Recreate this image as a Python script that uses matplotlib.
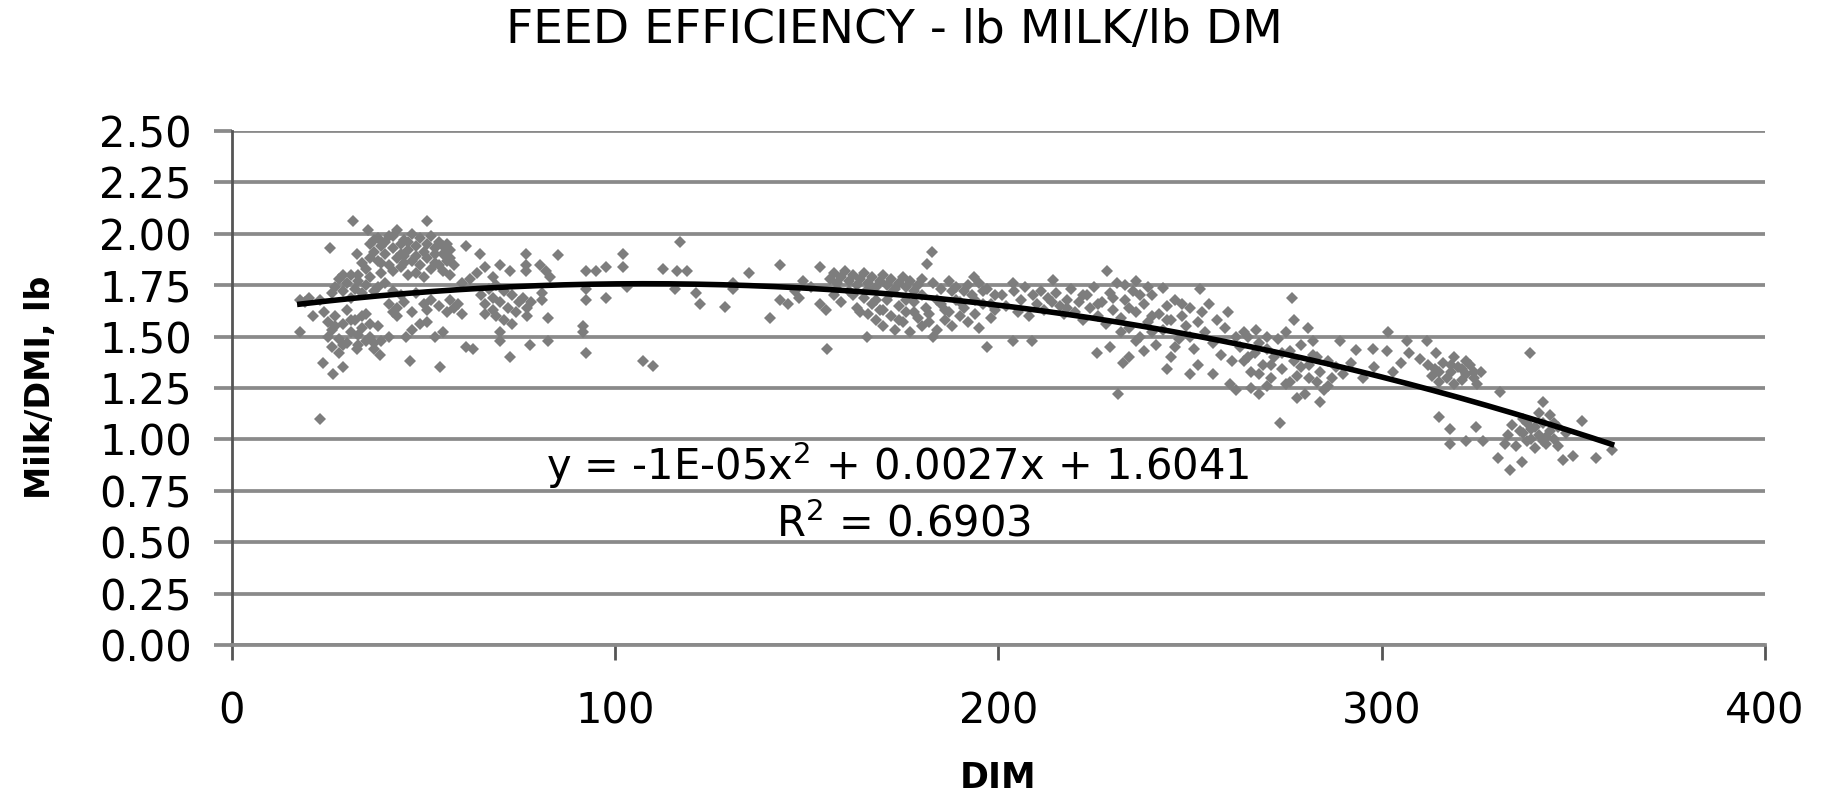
import numpy as np
import matplotlib
matplotlib.use('Agg')
import matplotlib.pyplot as plt

# early lactation (DIM < 75)
dim_a = [31.6, 50.8, 43, 35.5, 38, 41, 45, 47, 49, 52, 54, 56, 36, 39, 42, 44, 46, 48, 50, 53, 55, 57,
         37, 40, 43, 45, 47, 51, 53, 56, 58, 38, 41, 44, 49, 52, 55, 57, 35, 39, 46, 50, 25.5, 32.5, 34,
         37, 40, 42, 44, 46, 48, 51, 53, 55, 57, 39, 42, 45, 48, 54, 36, 33,
         27, 28, 29, 30, 31, 32, 33, 34, 35, 36, 37, 29, 26, 31, 38, 40, 42,
         17.7, 19, 20, 23, 21.2, 17.7, 22.9,
         24, 25, 26, 27, 28, 29, 30, 31, 32, 33, 34, 35, 36, 37, 38, 26, 28, 30, 32.5, 35, 23.8, 26.4, 29,
         25, 27, 29, 31, 33, 34, 36, 37,
         38.6, 39, 41, 43, 45.5,
         43, 45, 47, 49, 50, 51, 52, 53, 54, 55, 56, 57, 58, 59, 60, 61, 63, 46.4, 54.2, 44, 48, 41, 42, 51, 47,
         61, 64.7, 70, 72.5, 64, 66, 68, 62, 60, 68, 70, 70, 72.5, 65, 66, 67, 68, 69, 70, 71, 72, 73, 74, 75,
         71, 73, 66, 69]
ratio_a = [2.06, 2.06, 2.02, 2.02, 1.98, 1.99, 1.97, 2.00, 1.98, 1.99, 1.96, 1.95, 1.95, 1.94, 1.93, 1.95,
           1.92, 1.94, 1.91, 1.93, 1.90, 1.92, 1.91, 1.90, 1.88, 1.89, 1.87, 1.88, 1.86, 1.87, 1.85, 1.87,
           1.85, 1.84, 1.85, 1.83, 1.82, 1.80, 1.83, 1.81, 1.80, 1.79, 1.93, 1.90, 1.86,
           1.97, 1.96, 1.99, 1.90, 1.96, 1.89, 1.95, 1.90, 1.94, 1.88, 1.86, 1.82, 1.86, 1.81, 1.85, 1.88, 1.80,
           1.74, 1.78, 1.72, 1.76, 1.80, 1.73, 1.77, 1.71, 1.75, 1.79, 1.72, 1.80, 1.71, 1.69, 1.74, 1.76, 1.72,
           1.68, 1.67, 1.69, 1.68, 1.60, 1.52, 1.10,
           1.62, 1.57, 1.53, 1.60, 1.49, 1.56, 1.63, 1.52, 1.58, 1.46, 1.54, 1.61, 1.50, 1.44, 1.55, 1.45,
           1.42, 1.47, 1.44, 1.48, 1.37, 1.32, 1.35,
           1.50, 1.55, 1.46, 1.58, 1.51, 1.60, 1.56, 1.47,
           1.41, 1.48, 1.50, 1.60, 1.50,
           1.64, 1.67, 1.62, 1.56, 1.66, 1.63, 1.68, 1.50, 1.65, 1.52, 1.62, 1.68, 1.64, 1.66, 1.61, 1.45,
           1.44, 1.38, 1.35, 1.70, 1.71, 1.66, 1.62, 1.57, 1.53,
           1.94, 1.90, 1.85, 1.82, 1.81, 1.84, 1.79, 1.78, 1.76, 1.63, 1.52, 1.48, 1.40, 1.70, 1.66, 1.73,
           1.69, 1.60, 1.67, 1.72, 1.64, 1.70, 1.62, 1.67, 1.58, 1.56, 1.61, 1.75]

# DIM 75-140
dim_b = [76.8, 76.8, 76.8, 80.3, 82, 82.9, 85, 76, 77, 78, 77, 81, 81, 82.5, 77.7, 82.5, 92.5, 95, 97.7,
         92.5, 92.5, 97.7, 102, 102, 103, 91.6, 91.6, 92.5, 107.3, 109.9, 116.8, 112.5, 116, 118.6, 115.5,
         121.2, 122, 128.6, 130.8, 130.8, 135]
ratio_b = [1.90, 1.85, 1.82, 1.85, 1.82, 1.79, 1.895, 1.69, 1.64, 1.67, 1.60, 1.71, 1.68, 1.59, 1.46, 1.48,
           1.82, 1.82, 1.84, 1.73, 1.68, 1.69, 1.90, 1.84, 1.74, 1.55, 1.52, 1.42, 1.38, 1.355, 1.96, 1.83,
           1.82, 1.82, 1.73, 1.71, 1.66, 1.645, 1.76, 1.73, 1.81]

# DIM 140-200
dim_c = [143, 140.4, 143, 145, 148, 149, 153.5, 155.2, 153.5, 155, 147, 151,
         156, 157, 158, 159, 160, 161, 162, 163, 164, 165, 166, 167, 168, 169, 170, 171, 172, 173, 174, 175,
         176, 177, 178, 179, 180, 181.3, 182.6, 183, 185, 187, 189, 191, 193.5, 195, 197, 199,
         157, 159, 161, 163, 165, 165.6, 166, 167, 168, 169, 170, 171, 172, 173, 174, 175, 176, 177, 178, 179,
         180, 181, 182, 183, 184, 185, 186, 187, 188, 189, 190, 191, 192, 193, 194, 195, 196, 197, 198, 199,
         158, 162, 164, 166, 168, 170, 172, 174, 176, 178, 180, 182, 184, 186, 188, 190, 192, 194, 196, 198]
ratio_c = [1.85, 1.59, 1.68, 1.66, 1.69, 1.77, 1.84, 1.44, 1.66, 1.63, 1.72, 1.74,
           1.78, 1.81, 1.76, 1.79, 1.82, 1.77, 1.80, 1.75, 1.78, 1.81, 1.76, 1.79, 1.74, 1.77, 1.80, 1.75,
           1.78, 1.73, 1.76, 1.79, 1.74, 1.77, 1.72, 1.75, 1.78, 1.855, 1.91, 1.76, 1.73, 1.77, 1.74, 1.72,
           1.79, 1.76, 1.73, 1.70,
           1.70, 1.67, 1.72, 1.64, 1.69, 1.50, 1.61, 1.66, 1.58, 1.63, 1.55, 1.68, 1.60, 1.53, 1.65, 1.57,
           1.62, 1.52, 1.67, 1.59, 1.55, 1.64, 1.61, 1.50, 1.53, 1.66, 1.58, 1.62, 1.55, 1.68, 1.60, 1.64,
           1.57, 1.70, 1.61, 1.54, 1.66, 1.45, 1.59, 1.63,
           1.73, 1.70, 1.62, 1.73, 1.68, 1.63, 1.71, 1.58, 1.68, 1.62, 1.70, 1.57, 1.68, 1.63, 1.72, 1.67,
           1.75, 1.68, 1.72, 1.66]

# DIM 200-263
dim_d = [203.9, 214.3, 228.2, 243, 252.6, 203.9, 208.7, 225.6, 232.6, 231.3, 243.9, 250, 256, 260.4, 262,
         201, 202, 204, 205, 206, 207, 208, 209, 210, 211, 212, 213, 215, 216, 217, 218, 219, 220, 221, 222,
         223, 224, 225, 226, 227, 228, 229, 230, 231, 232, 233, 234, 235, 236, 237, 238, 239, 240, 241, 242,
         243, 244, 245, 246, 247, 248, 249, 250, 251, 252, 253, 254, 255, 256, 257, 258, 259, 260, 261, 262,
         229, 234, 238, 245, 252, 233, 236, 239,
         214, 218, 222, 226, 230, 234, 237, 240, 244, 248, 232, 236, 240, 246, 250]
ratio_d = [1.76, 1.775, 1.82, 1.735, 1.73, 1.48, 1.48, 1.42, 1.37, 1.22, 1.34, 1.32, 1.32, 1.27, 1.24,
           1.70, 1.65, 1.72, 1.62, 1.68, 1.74, 1.60, 1.70, 1.66, 1.72, 1.63, 1.69, 1.71, 1.65, 1.61, 1.68,
           1.73, 1.62, 1.67, 1.58, 1.70, 1.64, 1.74, 1.60, 1.67, 1.56, 1.71, 1.63, 1.76, 1.59, 1.68, 1.54,
           1.72, 1.62, 1.50, 1.66, 1.57, 1.70, 1.46, 1.61, 1.53, 1.65, 1.58, 1.68, 1.49, 1.60, 1.55, 1.64,
           1.44, 1.57, 1.62, 1.52, 1.66, 1.47, 1.58, 1.41, 1.54, 1.62, 1.38, 1.50,
           1.45, 1.40, 1.43, 1.40, 1.36, 1.75, 1.77, 1.74,
           1.67, 1.64, 1.70, 1.66, 1.69, 1.64, 1.70, 1.60, 1.58, 1.66, 1.52, 1.48, 1.52, 1.45, 1.50]

# DIM 263-326
dim_e = [276.5, 277, 280.8, 267.3, 273.4, 289, 293.4, 297.8, 301.3, 301.7, 306.5, 311.7, 307, 310, 314.3,
         315, 317.8, 317.8, 322, 324.7,
         263, 264, 265, 266, 267, 268, 269, 270, 271, 272, 273, 274, 275, 276, 277, 278, 279, 280, 281, 282,
         283, 284, 285, 286, 287, 288, 270, 275, 282, 266, 278, 284, 290, 292, 295, 264, 268,
         265, 268, 271, 274, 276, 279, 281, 283, 286, 270,
         312, 313, 314, 315, 316, 317, 318, 319, 320, 321, 322, 323, 324, 325, 326, 319, 322, 298, 303, 305,
         315, 318, 321, 324]
ratio_e = [1.686, 1.58, 1.54, 1.53, 1.08, 1.48, 1.435, 1.44, 1.43, 1.52, 1.48, 1.48, 1.42, 1.39, 1.42,
           1.11, 1.05, 0.98, 0.99, 1.06,
           1.45, 1.38, 1.50, 1.33, 1.42, 1.47, 1.36, 1.44, 1.30, 1.40, 1.49, 1.34, 1.27, 1.43, 1.38, 1.31,
           1.46, 1.22, 1.36, 1.41, 1.28, 1.33, 1.24, 1.38, 1.30, 1.35, 1.50, 1.52, 1.48, 1.25, 1.20, 1.18,
           1.32, 1.37, 1.30, 1.52, 1.22,
           1.40, 1.32, 1.36, 1.42, 1.28, 1.35, 1.30, 1.40, 1.26, 1.26,
           1.36, 1.31, 1.34, 1.28, 1.37, 1.30, 1.33, 1.27, 1.35, 1.29, 1.32, 1.36, 1.30, 1.27, 1.33, 1.40,
           1.38, 1.35, 1.33, 1.37,
           1.33, 1.36, 1.34, 1.33]

# late lactation (DIM > 326)
dim_f = [338.7, 330.9, 326.5, 332.2, 342.2, 352.2, 330.4, 333.5, 336.5, 347.4, 350, 356, 360,
         333, 334, 335, 336, 337, 338, 339, 340, 341, 342, 343, 344, 345, 346, 341, 344, 339, 346, 348,
         337, 340, 343, 345, 338, 342]
ratio_f = [1.42, 1.23, 0.99, 0.98, 1.18, 1.09, 0.91, 0.85, 0.89, 0.90, 0.92, 0.91, 0.95,
           1.02, 1.07, 0.97, 1.04, 1.10, 0.99, 1.05, 0.96, 1.02, 1.08, 0.98, 1.04, 1.00, 1.06, 1.13, 1.12,
           1.00, 0.97, 1.03,
           1.03, 1.06, 1.01, 1.08, 1.08, 0.99]

y_ticks = [0.0, 0.25, 0.5, 0.75, 1.0, 1.25, 1.5, 1.75, 2.0, 2.25, 2.5]
x_ticks = [0, 100, 200, 300, 400]


def main():
    dim = np.array(dim_a + dim_b + dim_c + dim_d + dim_e + dim_f)
    ratio = np.array(ratio_a + ratio_b + ratio_c + ratio_d + ratio_e + ratio_f)

    # polynomial trendline, order 2
    coef = np.polyfit(dim, ratio, 2)
    xs = np.linspace(dim.min(), dim.max(), 200)
    ys = np.polyval(coef, xs)

    fig = plt.figure(figsize=(18.21, 7.95), dpi=100)
    ax = fig.add_axes([0.1274, 0.1887, 0.8418, 0.6465])

    ax.plot(dim, ratio, linestyle='none', marker='D', markersize=6.5, color='#7d7d7d',
            markeredgewidth=0, zorder=3)
    ax.plot(xs, ys, color='black', linewidth=4, zorder=4)

    ax.set_xlim(0, 400)
    ax.set_ylim(0, 2.5)
    ax.set_xticks(x_ticks)
    ax.set_yticks(y_ticks)
    ax.set_yticklabels(['{:.2f}'.format(v) for v in y_ticks])

    ax.yaxis.grid(True, color='#8a8a8a', linewidth=2.7)
    ax.set_axisbelow(True)
    for s in ['top', 'right']:
        ax.spines[s].set_visible(False)
    ax.spines['left'].set_color('#555555')
    ax.spines['left'].set_linewidth(2)
    ax.spines['bottom'].set_color('#8a8a8a')
    ax.spines['bottom'].set_linewidth(2.7)

    ax.tick_params(axis='y', length=13, width=2.7, color='#8a8a8a', pad=16, labelsize=30)
    ax.tick_params(axis='x', length=11, width=2, color='#555555', pad=22, labelsize=30)

    ax.set_xlabel('DIM', fontsize=25, fontweight='bold', va='center')
    ax.xaxis.set_label_coords(0.5, -0.259)
    ax.set_ylabel('Milk/DMI, lb', fontsize=24, fontweight='bold', va='center')
    ax.yaxis.set_label_coords(-0.125, 0.502)

    fig.text(0.491, 0.962, 'FEED EFFICIENCY - lb MILK/lb DM', fontsize=34, ha='center', va='center')

    ax.text(0.434, 0.35, r'y = -1E-05x$^2$ + 0.0027x + 1.6041', transform=ax.transAxes,
            fontsize=30, ha='center', va='center')
    ax.text(0.438, 0.234, r'R$^2$ = 0.6903', transform=ax.transAxes,
            fontsize=30, ha='center', va='center')

    fig.savefig('out.png', dpi=100)


if __name__ == '__main__':
    main()
